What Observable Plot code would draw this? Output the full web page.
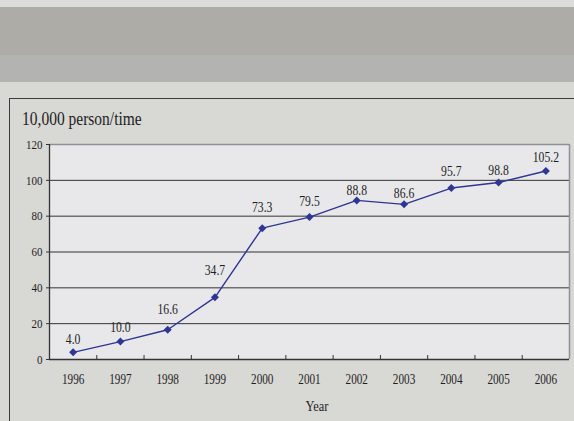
<!DOCTYPE html>
<html>
<head>
<meta charset="utf-8">
<script src="https://cdn.jsdelivr.net/npm/d3@7"></script>
<script src="https://cdn.jsdelivr.net/npm/@observablehq/plot@0.6"></script>
<style>
  html, body { margin: 0; padding: 0; }
  body { width: 574px; height: 421px; overflow: hidden; background: #d8d8d4; font-family: "Liberation Serif", "Times New Roman", serif; }
  #wrap { position: relative; width: 574px; height: 421px; }
  .band { position: absolute; left: 0; width: 574px; }
  #panel { position: absolute; left: 9px; top: 98px; width: 700px; height: 500px; border: 1px solid #3a3a3a; box-sizing: border-box; }
  #title { position: absolute; left: 22px; top: 110px; font-size: 15.5px; color: #1e1e1e; white-space: nowrap; transform: scaleY(1.22); transform-origin: left center; }
  #xlabel { position: absolute; left: 317px; top: 399px; transform: translateX(-50%) scaleY(1.2); font-size: 12.5px; color: #1e1e1e; }
  #chart { position: absolute; left: 0; top: 0; }
</style>
</head>
<body>
<div id="wrap">
  <div class="band" style="top:0;height:7px;background:#dcdcd8"></div>
  <div class="band" style="top:7px;height:48px;background:#adaca7"></div>
  <div class="band" style="top:55px;height:27px;background:#b3b3b2"></div>
  <div id="panel"></div>
  <div id="title">10,000 person/time</div>
  <div id="chart"></div>
  <div id="xlabel">Year</div>
</div>
<script>
const years = [1996, 1997, 1998, 1999, 2000, 2001, 2002, 2003, 2004, 2005, 2006];
const visitors = [4.0, 10.0, 16.6, 34.7, 73.3, 79.5, 88.8, 86.6, 95.7, 98.8, 105.2];
const yTicks = [0, 20, 40, 60, 80, 100, 120];
// Layout only: vertical nudge (px) of each value label above its point, as placed in the reference.
const labelNudge = [-13, -14, -20, -27, -21, -16, -10, -11, -17, -12, -13.5];

const data = years.map((yr, i) => ({year: yr, value: visitors[i], nudge: labelNudge[i]}));
const xMin = years[0] - 0.5, xMax = years[years.length - 1] + 0.5;
const boundaries = years.slice(1).map(y => y - 0.5);
const yMax = yTicks[yTicks.length - 1];
const gridVals = yTicks.slice(1, -1);
const lineColor = "#2e3592";

const chart = Plot.plot({
  width: 574,
  height: 421,
  marginTop: 144,
  marginBottom: 62,
  marginLeft: 49,
  marginRight: 5,
  style: { background: "transparent", fontFamily: "Liberation Serif, Times New Roman, serif", color: "#1e1e1e" },
  x: { domain: [xMin, xMax] },
  y: { domain: [0, yMax] },
  marks: [
    Plot.frame({ fill: "#e8e8ea", stroke: null }),
    Plot.ruleY(gridVals, { stroke: "#333", strokeWidth: 1 }),
    Plot.ruleY([yMax], { stroke: "#8d9098", strokeWidth: 1.5 }),
    Plot.ruleX([xMax], { stroke: "#8d9098", strokeWidth: 1.5 }),
    Plot.axisY({ ticks: yTicks, tickSize: 3, tickPadding: 4, fontSize: 11, label: null, stroke: "#333" }),
    Plot.axisX({ ticks: years, tickSize: 0, tickPadding: 15, tickFormat: d => String(d), fontSize: 11.2, label: null }),
    Plot.axisX({ ticks: boundaries, tickSize: -4, tickFormat: () => "", label: null, stroke: "#333" }),
    Plot.ruleY([0], { stroke: "#333", strokeWidth: 1.3 }),
    Plot.ruleX([xMin], { stroke: "#333", strokeWidth: 1.3 }),
    Plot.line(data, { x: "year", y: "value", stroke: lineColor, strokeWidth: 1.4 }),
    Plot.dot(data, { x: "year", y: "value", symbol: "diamond2", r: 3.6, fill: lineColor, stroke: null }),
    ...data.map(d => Plot.text([d], { x: "year", y: "value", text: v => v.value.toFixed(1), dy: d.nudge, fontSize: 11.7, fill: "#1e1e1e" }))
  ]
});
// Stretch glyphs vertically (the reference type is tall and narrow), around each text's own anchor.
chart.querySelectorAll("text").forEach(t => {
  let pre = "";
  ["x", "y"].forEach(a => {
    const v = t.getAttribute(a);
    if (v != null && /^-?[\d.]+(px)?$/.test(v.trim())) {
      t.removeAttribute(a);
      pre += a === "x" ? ` translate(${parseFloat(v)},0)` : ` translate(0,${parseFloat(v)})`;
    }
  });
  const tr = t.getAttribute("transform") || "";
  t.setAttribute("transform", `${tr}${pre} scale(1,1.22)`.trim());
});
document.getElementById("chart").appendChild(chart);
</script>
</body>
</html>
